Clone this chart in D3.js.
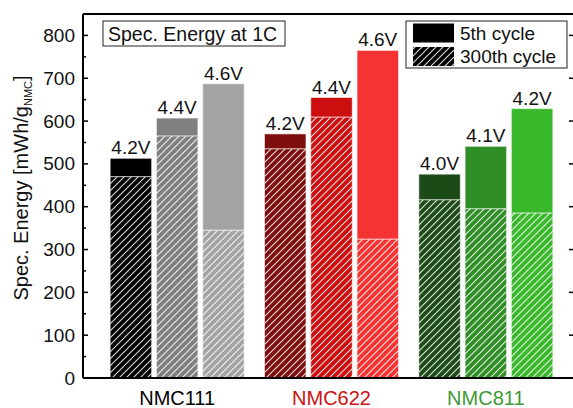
<!DOCTYPE html>
<html>
<head>
<meta charset="utf-8">
<script src="https://cdn.jsdelivr.net/npm/d3@7"></script>
<style>
  html, body { margin: 0; padding: 0; background: #fff; }
  svg { display: block; font-family: "Liberation Sans", Arial, sans-serif; }
</style>
</head>
<body>
<svg id="chart" width="573" height="408"></svg>
<script>
// Cathode materials and the charge cut-off voltage of each bar
const groups = ["NMC111", "NMC622", "NMC811"];
const voltages = [
  ["4.2V", "4.4V", "4.6V"],
  ["4.2V", "4.4V", "4.6V"],
  ["4.0V", "4.1V", "4.2V"]
];
// Specific energy (mWh/g NMC) at 1C
const energy5th = [
  [513, 607, 687],
  [570, 655, 765],
  [476, 541, 629]
];
const energy300th = [
  [470, 565, 345],
  [535, 609, 324],
  [416, 395, 385]
];
const yTicks = [0, 100, 200, 300, 400, 500, 600, 700, 800];

// Styling
const barColors = [
  ["#000000", "#7f7f7f", "#a3a3a3"],
  ["#7e0d0d", "#cc0e0e", "#f53333"],
  ["#1d4b18", "#2f8e25", "#3ab82c"]
];
const groupLabelColors = ["#000000", "#cc1111", "#3e9a35"];

const svg = d3.select("#chart");
const plot = { left: 83, right: 573, top: 14, bottom: 378 };

const y = d3.scaleLinear().domain([0, 850]).range([plot.bottom, plot.top]);
const x0 = d3.scaleBand().domain(groups).range([100, 563]).padding(0);
const x1 = d3.scaleBand().domain([0, 1, 2]).range([0, x0.bandwidth()])
  .paddingInner(0.104).paddingOuter(0.22);

// Diagonal white hatch for the 300th-cycle part of each bar
const defs = svg.append("defs");
const pat = defs.append("pattern")
  .attr("id", "hatch")
  .attr("patternUnits", "userSpaceOnUse")
  .attr("width", 7).attr("height", 7);
pat.append("path")
  .attr("d", "M-1,1 l2,-2 M0,7 l7,-7 M6,8 l2,-2")
  .attr("stroke", "#ffffff")
  .attr("stroke-opacity", 0.85)
  .attr("stroke-width", 1.1);

const rows = [];
groups.forEach((g, gi) => {
  energy5th[gi].forEach((v, si) => {
    rows.push({
      group: g, gi, si,
      label: voltages[gi][si],
      e5: v,
      e300: energy300th[gi][si],
      color: barColors[gi][si]
    });
  });
});

const barG = svg.append("g");
const bx = d => x0(d.group) + x1(d.si);

// 5th-cycle solid segment (from the 300th-cycle value up to the 5th-cycle value)
barG.selectAll("rect.top").data(rows).join("rect")
  .attr("class", "top")
  .attr("x", bx)
  .attr("width", x1.bandwidth())
  .attr("y", d => y(d.e5))
  .attr("height", d => y(d.e300) - y(d.e5))
  .attr("fill", d => d.color)
  .attr("stroke", "rgba(255,255,255,0.55)")
  .attr("stroke-width", 1);

// 300th-cycle segment, filled and hatched
barG.selectAll("rect.low").data(rows).join("rect")
  .attr("class", "low")
  .attr("x", bx)
  .attr("width", x1.bandwidth())
  .attr("y", d => y(d.e300))
  .attr("height", d => y(0) - y(d.e300))
  .attr("fill", d => d.color)
  .attr("stroke", "rgba(255,255,255,0.55)")
  .attr("stroke-width", 1);
barG.selectAll("rect.hatch").data(rows).join("rect")
  .attr("class", "hatch")
  .attr("x", bx)
  .attr("width", x1.bandwidth())
  .attr("y", d => y(d.e300))
  .attr("height", d => y(0) - y(d.e300))
  .attr("fill", "url(#hatch)");

// Voltage labels above bars
barG.selectAll("text.volt").data(rows).join("text")
  .attr("class", "volt")
  .attr("x", d => bx(d) + x1.bandwidth() / 2)
  .attr("y", d => y(d.e5) - 4)
  .attr("text-anchor", "middle")
  .attr("font-size", 19)
  .attr("fill", "#111")
  .text(d => d.label);

// Frame
const frame = svg.append("g").attr("fill", "none").attr("stroke", "#000").attr("stroke-width", 2);
frame.append("line").attr("x1", plot.left).attr("x2", plot.right + 2).attr("y1", plot.top).attr("y2", plot.top);
frame.append("line").attr("x1", plot.left).attr("x2", plot.right + 2).attr("y1", plot.bottom).attr("y2", plot.bottom);
frame.append("line").attr("x1", plot.left).attr("x2", plot.left).attr("y1", plot.top).attr("y2", plot.bottom);

// Left axis: inward major and minor ticks
const minorTicks = d3.range(50, 850, 100);
const yAxisL = svg.append("g").attr("transform", `translate(${plot.left},0)`);
yAxisL.call(d3.axisLeft(y).tickValues(yTicks).tickSize(0).tickPadding(8));
yAxisL.select(".domain").remove();
yAxisL.selectAll("text").attr("font-size", 19).attr("fill", "#111")
  .attr("font-family", "Liberation Sans, Arial, sans-serif");
yAxisL.selectAll("line.maj").data(yTicks).join("line").attr("class", "maj")
  .attr("x1", 0).attr("x2", 5).attr("y1", d => y(d)).attr("y2", d => y(d))
  .attr("stroke", "#000").attr("stroke-width", 1.5);
yAxisL.selectAll("line.min").data(minorTicks).join("line").attr("class", "min")
  .attr("x1", 0).attr("x2", 3).attr("y1", d => y(d)).attr("y2", d => y(d))
  .attr("stroke", "#000").attr("stroke-width", 1.5);

// Right side: inward major ticks
const yAxisR = svg.append("g").attr("transform", `translate(${plot.right},0)`);
yAxisR.selectAll("line.maj").data(yTicks.slice(1)).join("line").attr("class", "maj")
  .attr("x1", 0).attr("x2", -4).attr("y1", d => y(d)).attr("y2", d => y(d))
  .attr("stroke", "#000").attr("stroke-width", 1.5);

// Y axis title with subscript
const yTitle = svg.append("text")
  .attr("transform", `translate(28,${(plot.top + plot.bottom) / 2 - 8}) rotate(-90)`)
  .attr("text-anchor", "middle")
  .attr("font-size", 20)
  .attr("fill", "#111");
yTitle.append("tspan").text("Spec. Energy [mWh/g");
yTitle.append("tspan").attr("font-size", 11).attr("dy", 4).text("NMC");
yTitle.append("tspan").attr("dy", -4).text("]");

// Group labels under the axis
svg.append("g").selectAll("text").data(groups).join("text")
  .attr("x", d => x0(d) + x0.bandwidth() / 2)
  .attr("y", 405)
  .attr("text-anchor", "middle")
  .attr("font-size", 20)
  .attr("fill", (d, i) => groupLabelColors[i])
  .text(d => d);

// Title box
const tb = svg.append("g");
tb.append("rect").attr("x", 103).attr("y", 21).attr("width", 182).attr("height", 25)
  .attr("fill", "#fff").attr("stroke", "#222").attr("stroke-width", 1);
tb.append("text").attr("x", 108).attr("y", 41).attr("font-size", 19.5).attr("fill", "#111")
  .text("Spec. Energy at 1C");

// Legend
const legendItems = ["5th cycle", "300th cycle"];
const lg = svg.append("g");
lg.append("rect").attr("x", 406).attr("y", 21).attr("width", 161).attr("height", 47)
  .attr("fill", "#fff").attr("stroke", "#222").attr("stroke-width", 1);
legendItems.forEach((t, i) => {
  const yy = 23.5 + i * 23.5;
  lg.append("rect").attr("x", 413).attr("y", yy).attr("width", 41).attr("height", 19)
    .attr("fill", "#000");
  if (i === 1) {
    lg.append("rect").attr("x", 413).attr("y", yy).attr("width", 41).attr("height", 19)
      .attr("fill", "url(#hatch)");
  }
  lg.append("text").attr("x", 460).attr("y", yy + 16).attr("font-size", 19).attr("fill", "#111")
    .text(t);
});
</script>
</body>
</html>
